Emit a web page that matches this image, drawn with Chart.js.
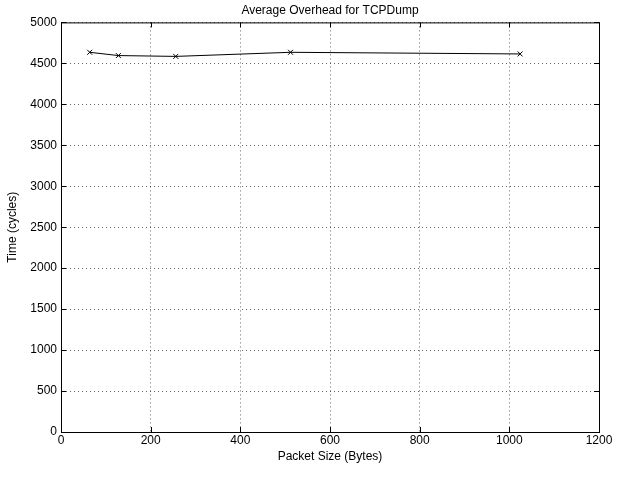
<!DOCTYPE html>
<html>
<head>
<meta charset="utf-8">
<script src="https://cdn.jsdelivr.net/npm/chart.js@4"></script>
<style>
  body { margin: 0; background: #fff; }
  #chart { display: block; background: #fff; }
</style>
</head>
<body>
<canvas id="chart" width="619" height="485"></canvas>
<script>
// Data
const packetSizes = [64, 128, 256, 512, 1024];
const overheadCycles = [4635, 4595, 4585, 4635, 4615];
const xTicks = [0, 200, 400, 600, 800, 1000, 1200];
const yTicks = [0, 500, 1000, 1500, 2000, 2500, 3000, 3500, 4000, 4500, 5000];

const fontFamily = "'Liberation Sans', Arial, Helvetica, sans-serif";

// Box around the plot area plus inward MATLAB-style tick marks
const boxPlugin = {
    id: 'box',
    afterDraw(chart) {
        const { ctx, chartArea: a, scales } = chart;
        ctx.save();
        ctx.strokeStyle = '#000';
        ctx.lineWidth = 1;
        ctx.setLineDash([]);
        ctx.strokeRect(a.left + 0.5, a.top + 0.5, a.right - a.left, a.bottom - a.top);
        const len = 5;
        ctx.beginPath();
        xTicks.forEach(v => {
            const x = Math.round(scales.x.getPixelForValue(v)) + 0.5;
            ctx.moveTo(x, a.bottom); ctx.lineTo(x, a.bottom - len);
            ctx.moveTo(x, a.top); ctx.lineTo(x, a.top + len);
        });
        yTicks.forEach(v => {
            const y = Math.round(scales.y.getPixelForValue(v)) + 0.5;
            ctx.moveTo(a.left, y); ctx.lineTo(a.left + len, y);
            ctx.moveTo(a.right, y); ctx.lineTo(a.right - len, y);
        });
        ctx.stroke();
        ctx.restore();
    }
};

new Chart(document.getElementById('chart'), {
    type: 'line',
    data: {
        datasets: [{
            data: packetSizes.map((x, i) => ({ x: x, y: overheadCycles[i] })),
            borderColor: '#000',
            borderWidth: 1,
            tension: 0,
            pointStyle: 'crossRot',
            pointRadius: 3.5,
            pointBorderColor: '#000',
            pointBorderWidth: 1
        }]
    },
    options: {
        responsive: false,
        animation: false,
        layout: { padding: { top: 0, right: 20, bottom: 18, left: 0 } },
        plugins: {
            legend: { display: false },
            tooltip: { enabled: false },
            title: {
                display: true,
                text: 'Average Overhead for TCPDump',
                color: '#000',
                fullSize: false,
                font: { family: fontFamily, size: 12, weight: 'normal' },
                padding: { top: 3, bottom: 5 }
            }
        },
        scales: {
            x: {
                type: 'linear',
                min: 0,
                max: 1200,
                afterBuildTicks: s => { s.ticks = xTicks.map(v => ({ value: v })); },
                afterFit: s => { s.height = 35; },
                ticks: {
                    color: '#000',
                    font: { family: fontFamily, size: 12 },
                    padding: 1,
                    maxRotation: 0,
                    callback: v => String(v)
                },
                grid: {
                    color: 'rgba(0,0,0,0.6)',
                    drawTicks: false,
                    lineWidth: 1
                },
                border: { display: true, color: '#000', width: 1, dash: [1, 3] },
                title: {
                    display: true,
                    text: 'Packet Size (Bytes)',
                    color: '#000',
                    font: { family: fontFamily, size: 12 },
                    padding: { top: 0, bottom: 3 }
                }
            },
            y: {
                type: 'linear',
                min: 0,
                max: 5000,
                afterBuildTicks: s => { s.ticks = yTicks.map(v => ({ value: v })); },
                afterFit: s => { s.width = 61; },
                ticks: {
                    color: '#000',
                    font: { family: fontFamily, size: 12 },
                    padding: 4,
                    callback: v => String(v)
                },
                grid: {
                    color: 'rgba(0,0,0,0.6)',
                    drawTicks: false,
                    lineWidth: 1
                },
                border: { display: true, color: '#000', width: 1, dash: [1, 3] },
                title: {
                    display: true,
                    text: 'Time (cycles)',
                    color: '#000',
                    font: { family: fontFamily, size: 12 },
                    padding: { top: 5, bottom: 0 }
                }
            }
        }
    },
    plugins: [boxPlugin]
});
</script>
</body>
</html>
